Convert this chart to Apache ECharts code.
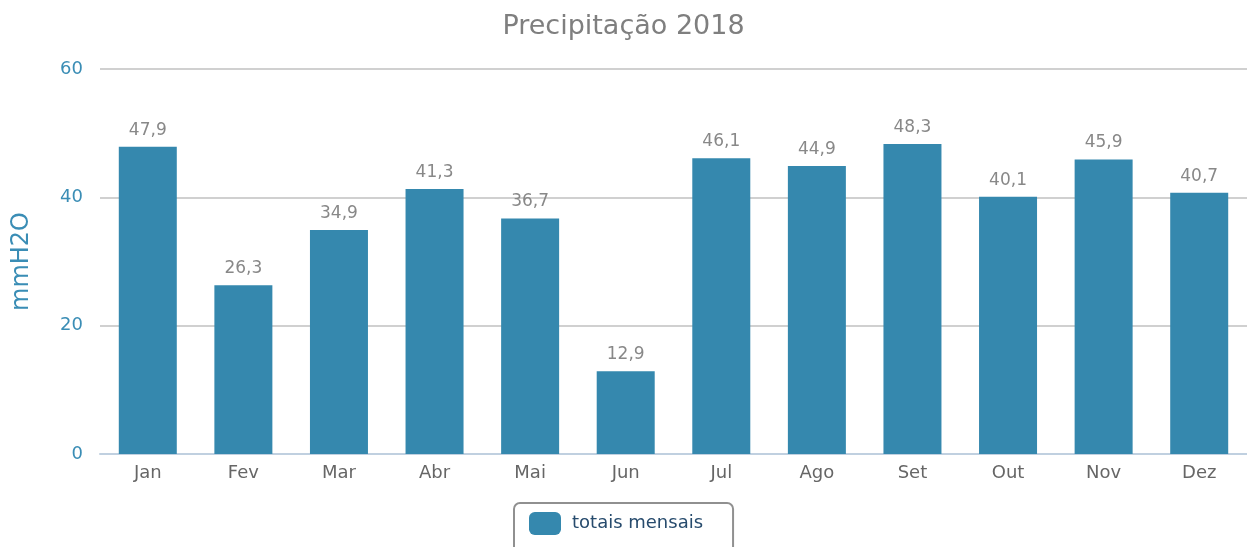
<!DOCTYPE html>
<html>
<head>
<meta charset="utf-8">
<script src="https://cdn.jsdelivr.net/npm/echarts@6/dist/echarts.min.js"></script>
<style>
  html,body{margin:0;padding:0;background:#fff;}
  #chart{width:1247px;height:547px;}
</style>
</head>
<body>
<div id="chart"></div>
<script>
const meses = ["Jan","Fev","Mar","Abr","Mai","Jun","Jul","Ago","Set","Out","Nov","Dez"]
const totais = [47.9,26.3,34.9,41.3,36.7,12.9,46.1,44.9,48.3,40.1,45.9,40.7]
const yTicks = [0,20,40,60]

let myChart = echarts.init(document.getElementById("chart"))
myChart.setOption({
    animation:false,
    textStyle:{fontFamily:"DejaVu Sans"},
    title:{
        text:"Precipitação 2018",
        left:"center",
        top:8,
        textStyle:{
            color:"#7f7f7f",
            fontSize:27,
            fontWeight:"normal",
            fontFamily:"DejaVu Sans"
        }
    },
    grid:{
        left:100,
        right:0,
        top:69,
        bottom:93,
        containLabel:false
    },
    xAxis:{
        type:"category",
        data:meses,
        axisLine:{lineStyle:{color:"#c0d0e0",width:2}},
        axisTick:{length:9,lineStyle:{color:"#c0d0e0",width:2}},
        axisLabel:{color:"#666",fontSize:18,margin:10}
    },
    yAxis:{
        type:"value",
        min:yTicks[0],
        max:yTicks[yTicks.length-1],
        interval:20,
        name:"mmH2O",
        nameLocation:"middle",
        nameGap:66,
        nameTextStyle:{color:"#3a8db5",fontSize:24},
        axisLine:{show:false},
        axisTick:{show:false},
        axisLabel:{color:"#3a8db5",fontSize:18,margin:17},
        splitLine:{lineStyle:{color:"#c0c0c0",width:1.5}}
    },
    legend:{
        left:514,
        top:503,
        padding:[9,30,20,15],
        borderColor:"#909090",
        borderWidth:2,
        borderRadius:6,
        itemWidth:32,
        itemHeight:23,
        itemGap:10,
        textStyle:{color:"#274b6d",fontSize:18,padding:[0,0,0,6]},
        data:[{name:"totais mensais",icon:"roundRect"}]
    },
    series:[
        {
            name:"totais mensais",
            type:"bar",
            data:totais,
            barWidth:58,
            itemStyle:{color:"#3588ae"},
            label:{
                show:true,
                position:"top",
                distance:8,
                color:"#888",
                fontSize:17,
                formatter:(p)=>p.value.toFixed(1).replace(".",",")
            }
        }
    ]
})
</script>
</body>
</html>
